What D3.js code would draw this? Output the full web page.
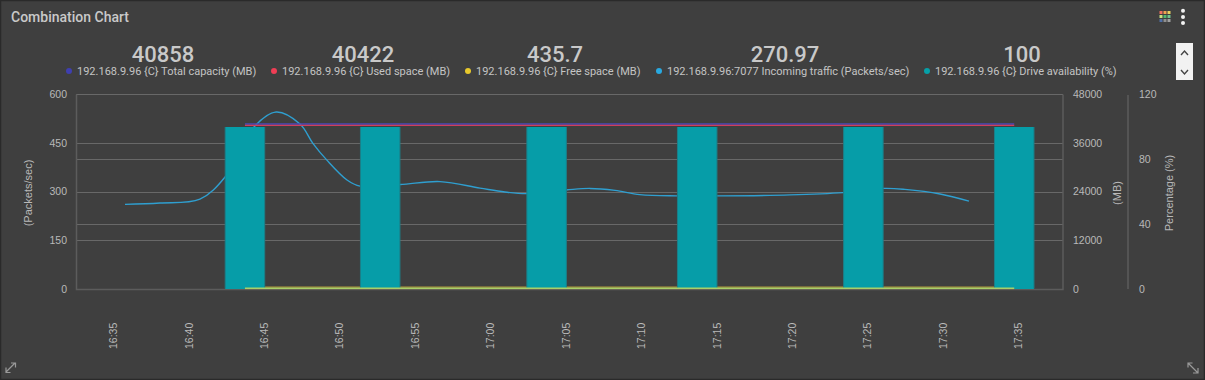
<!DOCTYPE html>
<html><head><meta charset="utf-8">
<script src="https://cdn.jsdelivr.net/npm/d3@7"></script>
<style>html,body{margin:0;padding:0;background:#3f3f3f;overflow:hidden}svg{display:block}
.tick-text{font-family:"Liberation Sans",Arial,sans-serif;font-size:10.5px;fill:#b9b9b9}
.rob{font-family:Roboto,sans-serif}</style></head><body>
<svg id="c" width="1205" height="380"></svg>
<script>
const barTimes=["16:43:45","16:52:43","17:03:45","17:13:44","17:24:45","17:34:45"];
const availability=[100,100,100,100,100,100];
const capacity=[40858,40858,40858,40858,40858,40858];
const used=[40422,40422,40422,40422,40422,40422];
const free=[435.7,435.7,435.7,435.7,435.7,435.7];
const freeBase=[320,320,320,320,320,320];
const trafficTimes=["16:35:48","16:38:07","16:40:46","16:42:26","16:44:21","16:45:49","16:47:24","16:48:16","16:49:11","16:50:31","16:51:23","16:54:02","16:56:41","16:59:20","17:00:59","17:02:27","17:05:02","17:06:37","17:08:17","17:09:56","17:12:23","17:15:02","17:19:53","17:23:24","17:26:07","17:27:30","17:29:50","17:31:45"];
const traffic=[262,266,278,346,500,546,509,449,398,337,318,323,332,312,300,295,306,311,305,292,288,288,291,298,311,308,294,272];
const yPacketTicks=[0,150,300,450,600];
const yMbTicks=[0,12000,24000,36000,48000];
const yPctTicks=[0,40,80,120];
const xTicks=["16:35","16:40","16:45","16:50","16:55","17:00","17:05","17:10","17:15","17:20","17:25","17:30","17:35"];
const legendNames=["192.168.9.96 {C} Total capacity (MB)","192.168.9.96 {C} Used space (MB)","192.168.9.96 {C} Free space (MB)","192.168.9.96:7077 Incoming traffic (Packets/sec)","192.168.9.96 {C} Drive availability (%)"];
const legendValues=["40858","40422","435.7","270.97","100"];
const legendColors=["#3f3fb0","#ef3e55","#e8c92c","#29a9e0","#06a0a8"];
const legendDotX=[69,274,468,659,927];
const legendValueX=[163,363,555,785,1022];
const iconColors=["#ef6f5f","#f0a050","#e8d060","#c8e080","#50b870","#70c090","#5070a8","#909090","#a0a0a0"];

const svg=d3.select("#c");
const parse=d3.timeParse("%H:%M:%S");
const t=s=>parse(s.length===5?s+":00":s);
const L=76.5,R=1063,T=94.5,B=289.5;
const x=d3.scaleTime().domain([t("16:32:35"),t("17:37:59")]).range([L,R]);
const yP=d3.scaleLinear().domain([0,600]).range([B,T]);
const yM=d3.scaleLinear().domain([0,48000]).range([B,T]);
const yC=d3.scaleLinear().domain([0,120]).range([B,T]);

svg.append("rect").attr("x",.5).attr("y",.5).attr("width",1204).attr("height",379).attr("fill","#3f3f3f").attr("stroke","#2a2a2a").attr("stroke-width",1.5);
svg.append("text").attr("class","rob").attr("x",11).attr("y",22).attr("font-size",14).attr("font-weight",500).attr("fill","#c9c9c9").text("Combination Chart");

// toolbar icons
const ig=svg.append("g");
iconColors.forEach((c,i)=>ig.append("rect").attr("x",1159.5+(i%3)*4).attr("y",11+Math.floor(i/3)*4).attr("width",3).attr("height",3).attr("fill",c));
[10.7,16.9,23].forEach(cy=>svg.append("circle").attr("cx",1183).attr("cy",cy).attr("r",2).attr("fill","#f2f2f2"));
svg.append("rect").attr("x",1176).attr("y",43).attr("width",17).attr("height",37).attr("fill","#f2f2f2");
const chev=d=>svg.append("path").attr("d",d).attr("fill","none").attr("stroke","#444").attr("stroke-width",1.4);
chev("M1181 55L1184.5 51L1188 55");chev("M1181 70L1184.5 74L1188 70");

// legend
legendNames.forEach((n,i)=>{
  svg.append("circle").attr("cx",legendDotX[i]).attr("cy",71).attr("r",3).attr("fill",legendColors[i]);
  svg.append("text").attr("class","rob").attr("x",legendDotX[i]+8).attr("y",75).attr("font-size",11).attr("fill","#c4c4c4").text(n);
  svg.append("text").attr("class","rob").attr("x",legendValueX[i]).attr("y",62).attr("text-anchor","middle").attr("font-size",22).attr("font-weight",500).attr("fill","#c9c9c9").text(legendValues[i]);
});

// grid
const gridCol="#686868";
[[yP,yPacketTicks],[yM,yMbTicks],[yC,yPctTicks]].forEach(([s,ts])=>{
  svg.append("g").selectAll("line").data(ts).join("line").attr("x1",L).attr("x2",R)
   .attr("y1",d=>Math.round(s(d)-.5)+.5).attr("y2",d=>Math.round(s(d)-.5)+.5).attr("stroke",gridCol);
});
svg.append("path").attr("d",`M${L} ${T}V${B}H${R}V${T}`).attr("fill","none").attr("stroke","#5c5c5c").attr("stroke-width",1.5);
svg.append("line").attr("x1",1128).attr("x2",1128).attr("y1",95).attr("y2",B-.5).attr("stroke","#5c5c5c").attr("stroke-width",1.5);

// axes
function styleAxis(g){g.select(".domain").remove();g.selectAll(".tick line").remove();g.selectAll("text").attr("class","tick-text").attr("fill",null);}
const plain=d3.format("d");
svg.append("g").attr("transform",`translate(${L-9.5},-0.5)`).call(d3.axisLeft(yP).tickValues(yPacketTicks).tickFormat(plain).tickSize(0).tickPadding(0)).call(styleAxis);
svg.append("g").attr("transform",`translate(1073,-0.5)`).call(d3.axisRight(yM).tickValues(yMbTicks).tickFormat(plain).tickSize(0).tickPadding(0)).call(styleAxis);
svg.append("g").attr("transform",`translate(1139,-0.5)`).call(d3.axisRight(yC).tickValues(yPctTicks).tickFormat(plain).tickSize(0).tickPadding(0)).call(styleAxis);
const xg=svg.append("g").attr("transform",`translate(0,349)`).call(d3.axisBottom(x).tickValues(xTicks.map(t)).tickFormat(d3.timeFormat("%H:%M")).tickSize(0).tickPadding(0)).call(styleAxis);
xg.selectAll("text").attr("transform","rotate(-90)").attr("x",0).attr("y",0).attr("dy","0.35em").attr("text-anchor","start");

[["(Packets/sec)",28],["(MB)",1117],["Percentage (%)",1169]].forEach(([s,px])=>{
  svg.append("text").attr("class","tick-text").attr("transform",`translate(${px},193) rotate(-90)`).attr("text-anchor","middle").attr("dy","0.35em").style("font-size","11px").text(s);
});

// traffic line (under bars)
const line=d3.line();
const smooth=d3.line().curve(d3.curveCatmullRom.alpha(0.5));
svg.append("path").attr("d",smooth(trafficTimes.map((d,i)=>[x(t(d)),yP(traffic[i])]))).attr("fill","none").attr("stroke","#2f9fd0").attr("stroke-width",1.4);

const flat=(vals,s)=>line(barTimes.map((d,i)=>[x(t(d)),s(vals[i])]));
svg.append("path").attr("d",flat(free,yM)).attr("fill","none").attr("stroke","#8c7d3c").attr("stroke-width",3);

// bars
const bw=39.5;
svg.append("g").selectAll("rect").data(barTimes).join("rect")
 .attr("x",d=>x(t(d))-bw/2).attr("width",bw).attr("y",(d,i)=>yC(availability[i])).attr("height",(d,i)=>B-.5-yC(availability[i]))
 .attr("fill","#069da8");
svg.append("g").selectAll("line").data(barTimes.flatMap(d=>[-bw/2,bw/2].map(o=>[d,o]))).join("line")
 .attr("x1",d=>x(t(d[0]))+d[1]).attr("x2",d=>x(t(d[0]))+d[1]).attr("y1",yC(100)).attr("y2",B-1).attr("stroke","#1c7f88").attr("stroke-width",1);

svg.append("path").attr("d",flat(freeBase,yM)).attr("fill","none").attr("stroke","#a9cf68").attr("stroke-width",1.5);
svg.append("path").attr("d",flat(capacity,yM)).attr("transform","translate(0,.5)").attr("fill","none").attr("stroke","#4a4ab8").attr("stroke-width",1.5);
svg.append("path").attr("d",flat(used,yM)).attr("fill","none").attr("stroke","#cf3f5c").attr("stroke-width",1.2);

// resize icons
const icon=d=>svg.append("path").attr("d",d).attr("fill","none").attr("stroke","#9a9a9a").attr("stroke-width",1.2);
icon("M6 372L15 363M11 363H15.5V367.5M6 367.5V372.5H10.5");
icon("M1188 363L1198 373M1188 367.5V363H1192.5M1198 368V373H1193");
</script></body></html>
